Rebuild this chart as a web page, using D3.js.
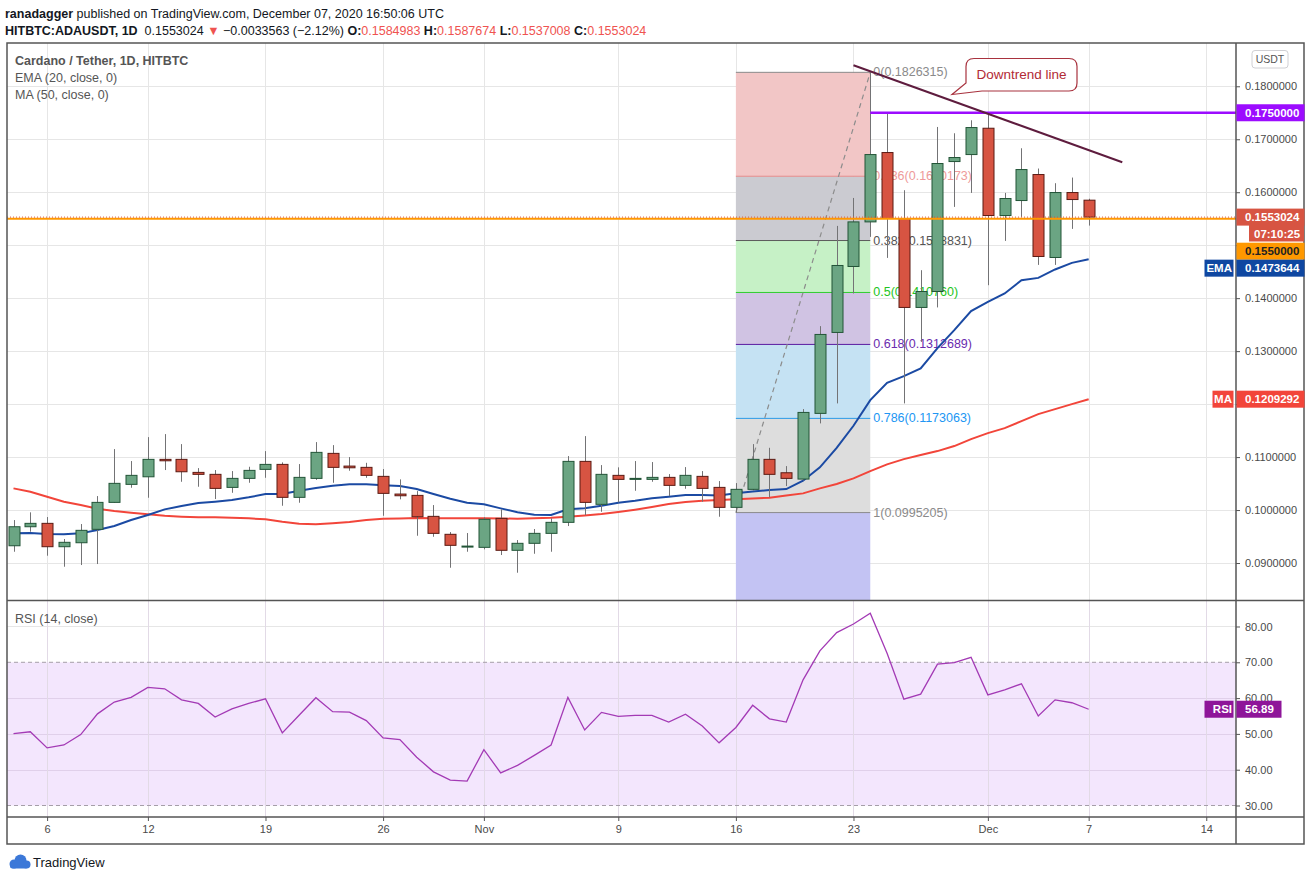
<!DOCTYPE html>
<html>
<head>
<meta charset="utf-8">
<script src="https://cdnjs.cloudflare.com/ajax/libs/d3/7.8.5/d3.min.js"></script>
<style>
  body { margin: 0; background: #fff; }
  svg { display: block; }
</style>
</head>
<body>
<svg></svg>
<script>
const WIDTH = 1311;
const HEIGHT = 881;

// ---- daily candles, Oct 4 .. Dec 7 2020 ----
const OPEN = [0.09326,0.09685,0.09749,0.09308,0.09383,0.09636,0.10145,0.10485,0.10628,0.10957,
  0.10957,0.10711,0.10674,0.10428,0.10598,0.10768,0.10862,0.10240,0.10598,0.11070,
  0.10830,0.10806,0.10636,0.10302,0.10277,0.09881,0.09542,0.09302,0.09296,0.09843,
  0.09240,0.09372,0.09560,0.09768,0.10919,0.10108,0.10655,0.10579,0.10579,0.10617,
  0.10466,0.10636,0.10428,0.10051,0.10391,0.10957,0.10704,0.10585,0.11825,0.13353,
  0.14598,0.15440,0.16749,0.15504,0.13825,0.14126,0.16579,0.16711,0.17208,0.15560,
  0.15843,0.16334,0.14768,0.15994,0.1584983];
const HIGH = [0.09811,0.09957,0.09868,0.09453,0.09736,0.10264,0.11151,0.10925,0.11377,0.11434,
  0.11245,0.10792,0.10755,0.10736,0.10817,0.11113,0.10900,0.10868,0.11283,0.11226,
  0.11000,0.10892,0.10774,0.10579,0.10358,0.10094,0.09585,0.09566,0.09862,0.10013,
  0.09434,0.09642,0.09843,0.11019,0.11396,0.10849,0.10806,0.10925,0.10906,0.10679,
  0.10811,0.10736,0.10547,0.10509,0.11245,0.11175,0.10830,0.11906,0.13472,0.15364,
  0.15892,0.1826315,0.17504,0.16038,0.14528,0.17232,0.17113,0.17358,0.17504,0.15987,
  0.16830,0.16447,0.16170,0.16277,0.1587674];
const LOW = [0.09213,0.09591,0.09138,0.08930,0.08962,0.08981,0.10140,0.10421,0.10232,0.10755,
  0.10534,0.10440,0.10208,0.10326,0.10515,0.10609,0.10081,0.10138,0.10570,0.10515,
  0.10742,0.10609,0.09892,0.10202,0.09515,0.09496,0.08911,0.09213,0.09258,0.09151,
  0.08817,0.09175,0.09213,0.09698,0.09906,0.09968,0.10145,0.10364,0.10534,0.10264,
  0.10402,0.10157,0.09874,0.0995205,0.10370,0.10240,0.10453,0.10560,0.11636,0.12013,
  0.14089,0.15157,0.14760,0.12013,0.13175,0.13825,0.15723,0.15987,0.14245,0.15081,
  0.15534,0.14628,0.14628,0.15308,0.1537008];
const CLOSE = [0.09685,0.09749,0.09308,0.09391,0.09617,0.10145,0.10504,0.10655,0.10957,0.10930,
  0.10723,0.10674,0.10409,0.10598,0.10749,0.10862,0.10240,0.10617,0.11089,0.10806,
  0.10798,0.10655,0.10315,0.10270,0.09874,0.09560,0.09334,0.09320,0.09825,0.09240,
  0.09372,0.09560,0.09768,0.10919,0.10145,0.10674,0.10579,0.10598,0.10617,0.10466,
  0.10655,0.10409,0.10051,0.10391,0.10957,0.10674,0.10598,0.11843,0.13315,0.14617,
  0.15440,0.16711,0.15504,0.13825,0.14126,0.16542,0.16655,0.17221,0.15560,0.15881,
  0.16428,0.14787,0.15994,0.15862,0.1553024];

const EMA20 = [0.09560,0.09566,0.09547,0.09541,0.09560,0.09623,0.09698,0.09811,0.09906,0.10013,
  0.10075,0.10132,0.10157,0.10189,0.10240,0.10302,0.10302,0.10364,0.10415,0.10458,
  0.10485,0.10485,0.10466,0.10453,0.10396,0.10302,0.10213,0.10138,0.10108,0.10032,
  0.09957,0.09911,0.09906,0.10013,0.10032,0.10081,0.10138,0.10175,0.10221,0.10251,
  0.10283,0.10283,0.10277,0.10315,0.10349,0.10377,0.10396,0.10553,0.10806,0.11175,
  0.11591,0.12075,0.12402,0.12528,0.12674,0.13057,0.13396,0.13755,0.13930,0.14089,
  0.14340,0.14383,0.14542,0.14666,0.1473644];
const MA50 = [0.10409,0.10345,0.10251,0.10157,0.10094,0.10025,0.09981,0.09949,0.09919,0.09892,
  0.09874,0.09862,0.09862,0.09855,0.09843,0.09825,0.09779,0.09742,0.09730,0.09749,
  0.09774,0.09811,0.09836,0.09840,0.09849,0.09845,0.09843,0.09843,0.09843,0.09840,
  0.09836,0.09845,0.09855,0.09874,0.09896,0.09925,0.09962,0.10006,0.10057,0.10113,
  0.10151,0.10175,0.10189,0.10202,0.10217,0.10232,0.10274,0.10315,0.10409,0.10491,
  0.10598,0.10736,0.10862,0.10962,0.11038,0.11113,0.11208,0.11340,0.11453,0.11547,
  0.11679,0.11811,0.11906,0.12000,0.1209292];
const RSI14 = [50.1,50.6,46.1,46.9,49.8,55.6,58.9,60.2,63.0,62.6,
  59.5,58.5,54.7,57.0,58.5,59.8,50.3,55.2,60.1,56.2,
  56.1,53.7,48.9,48.4,43.5,39.4,37.1,36.8,45.6,39.1,
  41.2,44.0,46.9,60.2,51.1,56.0,54.9,55.2,55.2,53.3,
  55.5,52.2,47.5,51.8,58.0,54.2,53.3,65.1,73.2,78.3,
  80.7,83.7,72.5,59.7,61.1,69.5,69.9,71.4,60.9,62.3,
  64.0,55.0,59.5,58.7,56.89];

const DATES = d3.utcDay.range(new Date(Date.UTC(2020, 9, 4)), new Date(Date.UTC(2020, 11, 8)));

const PRICE_TICKS = [0.09, 0.10, 0.11, 0.12, 0.13, 0.14, 0.15, 0.16, 0.17, 0.18];
const HIDDEN_TICKS = [0.12, 0.15];   // covered by the price tags in the picture
const RSI_TICKS = [30, 40, 50, 60, 70, 80];
const DATE_TICKS = [[9,6],[9,12],[9,19],[9,26],[10,1],[10,9],[10,16],[10,23],[11,1],[11,7],[11,14]]
  .map(d => new Date(Date.UTC(2020, d[0], d[1])));
const DATE_LABELS = ["6", "12", "19", "26", "Nov", "9", "16", "23", "Dec", "7", "14"];

// fib retracement drawn from Nov 16 low to Nov 24 high
const FIB_DATES = [new Date(Date.UTC(2020, 10, 16)), new Date(Date.UTC(2020, 10, 24))];
const FIB_LEVELS = ["0", "0.236", "0.382", "0.5", "0.618", "0.786", "1"];
const FIB_VALUES = [0.1826315, 0.1630173, 0.1508831, 0.1410760, 0.1312689, 0.1173063, 0.0995205];
const FIB_LINE = ["#8a8a8a", "#e58a8a", "#5c5c5c", "#2ecc2e", "#5a1aa0", "#2a9ae6", "#8a8a8a"];
const FIB_FILL = ["#f2c6c6", "#cbcbd1", "#c6f1c6", "#d0c3e3", "#c5e2f3", "#dddddd", "#c3c3f3"];
const FIB_TEXT = ["#8a8a8a", "#ee9a9a", "#555555", "#22c522", "#6a2cae", "#2196f3", "#8a8a8a"];

const RESISTANCE = 0.175;
const SUPPORT = 0.155;
const LAST_PRICE = 0.1553024;
const TREND_DATES = [new Date(Date.UTC(2020, 10, 23)), new Date(Date.UTC(2020, 11, 9))];
const TREND_PRICES = [0.18396, 0.16566];

// ---- layout ----
const LEFT = 7, RIGHT = 1236, OUTER_RIGHT = 1304;
const MAIN_TOP = 43, MAIN_BOTTOM = 600;
const RSI_TOP = 601, RSI_BOTTOM = 817, AXIS_BOTTOM = 844;
const FONT = "'Liberation Sans', Arial, sans-serif";

const DAY = 864e5;
const T0 = DATES[0].getTime();
const x = d3.scaleUtc()
  .domain([new Date(T0 - 0.387 * DAY), new Date(T0 + 72.77 * DAY)])
  .range([LEFT, RIGHT]);
const y = d3.scaleLinear().domain([0.08302, 0.18817]).range([MAIN_BOTTOM, MAIN_TOP]);
const yR = d3.scaleLinear().domain([26.79, 87.12]).range([RSI_BOTTOM, RSI_TOP]);

const svg = d3.select("svg")
  .attr("width", WIDTH)
  .attr("height", HEIGHT)
  .style("font-family", FONT);

svg.append("rect").attr("width", WIDTH).attr("height", HEIGHT).attr("fill", "#fff");

const defs = svg.append("defs");
defs.append("clipPath").attr("id", "clipMain").append("rect")
  .attr("x", LEFT).attr("y", MAIN_TOP).attr("width", RIGHT - LEFT).attr("height", MAIN_BOTTOM - MAIN_TOP);
defs.append("clipPath").attr("id", "clipRsi").append("rect")
  .attr("x", LEFT).attr("y", RSI_TOP).attr("width", RIGHT - LEFT).attr("height", RSI_BOTTOM - RSI_TOP);

// ---- grid ----
const grid = svg.append("g").attr("stroke", "#e6e6e6").attr("stroke-width", 1);
grid.selectAll("line.h").data(PRICE_TICKS).join("line")
  .attr("x1", LEFT).attr("x2", RIGHT)
  .attr("y1", d => Math.round(y(d)) + 0.5).attr("y2", d => Math.round(y(d)) + 0.5);
grid.selectAll("line.v").data(DATE_TICKS).join("line")
  .attr("x1", d => Math.round(x(d)) + 0.5).attr("x2", d => Math.round(x(d)) + 0.5)
  .attr("y1", MAIN_TOP).attr("y2", MAIN_BOTTOM);

// ---- main pane ----
const main = svg.append("g").attr("clip-path", "url(#clipMain)");

const fx0 = x(FIB_DATES[0]), fx1 = x(FIB_DATES[1]);
const zoneEdges = FIB_VALUES.concat([y.domain()[0]]);
main.selectAll("rect.zone").data(FIB_FILL).join("rect")
  .attr("x", fx0).attr("width", fx1 - fx0)
  .attr("y", (d, i) => y(zoneEdges[i]))
  .attr("height", (d, i) => y(zoneEdges[i + 1]) - y(zoneEdges[i]))
  .attr("fill", d => d);
main.selectAll("line.fib").data(FIB_VALUES).join("line")
  .attr("x1", fx0).attr("x2", fx1)
  .attr("y1", d => y(d)).attr("y2", d => y(d))
  .attr("stroke", (d, i) => FIB_LINE[i]).attr("stroke-width", 1);
main.selectAll("text.fib").data(FIB_VALUES).join("text")
  .attr("x", fx1 + 3).attr("y", d => y(d) + 4)
  .attr("fill", (d, i) => FIB_TEXT[i])
  .attr("font-size", 12.5)
  .text((d, i) => `${FIB_LEVELS[i]}(${d.toFixed(7)})`);
main.append("line")
  .attr("x1", fx0).attr("y1", y(FIB_VALUES[6]))
  .attr("x2", fx1).attr("y2", y(FIB_VALUES[0]))
  .attr("stroke", "#8c8c8c").attr("stroke-width", 1.2).attr("stroke-dasharray", "5,4");

const lineGen = vals => d3.line().x((d, i) => x(DATES[i])).y(d => y(d))(vals);
main.append("path").attr("d", lineGen(MA50))
  .attr("fill", "none").attr("stroke", "#f2453a").attr("stroke-width", 2);
main.append("path").attr("d", lineGen(EMA20))
  .attr("fill", "none").attr("stroke", "#1b4aa3").attr("stroke-width", 2);

// candles
const BODY = 11;
const candles = main.append("g").selectAll("g").data(DATES).join("g");
candles.append("line")
  .attr("x1", d => Math.round(x(d)) + 0.5).attr("x2", d => Math.round(x(d)) + 0.5)
  .attr("y1", (d, i) => y(HIGH[i])).attr("y2", (d, i) => y(LOW[i]))
  .attr("stroke", "#737375").attr("stroke-width", 1);
candles.append("rect")
  .attr("x", d => Math.round(x(d)) - BODY / 2 + 0.5)
  .attr("width", BODY)
  .attr("y", (d, i) => y(Math.max(OPEN[i], CLOSE[i])))
  .attr("height", (d, i) => Math.max(1, Math.abs(y(OPEN[i]) - y(CLOSE[i]))))
  .attr("fill", (d, i) => CLOSE[i] >= OPEN[i] ? "#6ba583" : "#d75442")
  .attr("stroke", (d, i) => CLOSE[i] >= OPEN[i] ? "#225437" : "#5b1a13")
  .attr("stroke-width", 1);

// horizontal levels and drawings
main.append("line")
  .attr("x1", LEFT).attr("x2", RIGHT)
  .attr("y1", y(SUPPORT)).attr("y2", y(SUPPORT))
  .attr("stroke", "#ff9800").attr("stroke-width", 2);
main.append("line")
  .attr("x1", LEFT).attr("x2", RIGHT)
  .attr("y1", y(LAST_PRICE)).attr("y2", y(LAST_PRICE))
  .attr("stroke", "#d75442").attr("stroke-width", 1).attr("stroke-dasharray", "1,2");
main.append("line")
  .attr("x1", x(FIB_DATES[1])).attr("x2", RIGHT)
  .attr("y1", y(RESISTANCE)).attr("y2", y(RESISTANCE))
  .attr("stroke", "#9c0cff").attr("stroke-width", 2.5);
main.append("line")
  .attr("x1", x(TREND_DATES[0])).attr("y1", y(TREND_PRICES[0]))
  .attr("x2", x(TREND_DATES[1])).attr("y2", y(TREND_PRICES[1]))
  .attr("stroke", "#5e1c3e").attr("stroke-width", 2);

// callout
main.append("path")
  .attr("d", "M974,58.5 H1069 Q1077,58.5 1077,66.5 V83 Q1077,91 1069,91 H982 L952,94.5 L966,83 V66.5 Q966,58.5 974,58.5 Z")
  .attr("fill", "#fff").attr("stroke", "#a8323e").attr("stroke-width", 1.2);
main.append("text")
  .attr("x", 1021.5).attr("y", 79)
  .attr("text-anchor", "middle").attr("font-size", 13.5)
  .attr("fill", "#b22a35")
  .text("Downtrend line");

// legend
const legend = svg.append("g").attr("font-size", 12.5).attr("fill", "#555");
legend.append("text").attr("x", 15).attr("y", 65).attr("font-weight", "bold").text("Cardano / Tether, 1D, HITBTC");
legend.append("text").attr("x", 15).attr("y", 82).text("EMA (20, close, 0)");
legend.append("text").attr("x", 15).attr("y", 98.5).text("MA (50, close, 0)");

// ---- RSI pane ----
const rsi = svg.append("g").attr("clip-path", "url(#clipRsi)");
rsi.append("rect")
  .attr("x", LEFT).attr("width", RIGHT - LEFT)
  .attr("y", yR(70)).attr("height", yR(30) - yR(70))
  .attr("fill", "#f3e6fd");
rsi.selectAll("line.h").data([40, 50, 60, 80]).join("line")
  .attr("x1", LEFT).attr("x2", RIGHT)
  .attr("y1", d => Math.round(yR(d)) + 0.5).attr("y2", d => Math.round(yR(d)) + 0.5)
  .attr("stroke", d => d === 80 ? "#e6e6e6" : "#e0d0ea").attr("stroke-width", 1);
rsi.selectAll("line.v").data(DATE_TICKS).join("line")
  .attr("x1", d => Math.round(x(d)) + 0.5).attr("x2", d => Math.round(x(d)) + 0.5)
  .attr("y1", RSI_TOP).attr("y2", RSI_BOTTOM)
  .attr("stroke", "#e2dae6").attr("stroke-width", 1);
rsi.selectAll("line.band").data([70, 30]).join("line")
  .attr("x1", LEFT).attr("x2", RIGHT)
  .attr("y1", d => yR(d)).attr("y2", d => yR(d))
  .attr("stroke", "#a59ea8").attr("stroke-width", 1).attr("stroke-dasharray", "4,3");
rsi.append("path")
  .attr("d", d3.line().x((d, i) => x(DATES[i])).y(d => yR(d))(RSI14))
  .attr("fill", "none").attr("stroke", "#a33ab5").attr("stroke-width", 1.3);
svg.append("text").attr("x", 15).attr("y", 623).attr("font-size", 12.5).attr("fill", "#555")
  .text("RSI (14, close)");

// ---- frame ----
const frame = svg.append("g").attr("stroke", "#555").attr("stroke-width", 1.5).attr("fill", "none");
frame.append("rect").attr("x", LEFT).attr("y", MAIN_TOP).attr("width", OUTER_RIGHT - LEFT).attr("height", AXIS_BOTTOM - MAIN_TOP);
frame.append("line").attr("x1", RIGHT).attr("x2", RIGHT).attr("y1", MAIN_TOP).attr("y2", AXIS_BOTTOM);
frame.append("line").attr("x1", LEFT).attr("x2", OUTER_RIGHT).attr("y1", RSI_TOP - 0.5).attr("y2", RSI_TOP - 0.5);
frame.append("line").attr("x1", LEFT).attr("x2", OUTER_RIGHT).attr("y1", RSI_BOTTOM).attr("y2", RSI_BOTTOM);

// ---- axes ----
function styleAxis(g) {
  g.select(".domain").remove();
  g.selectAll(".tick line").attr("stroke", "#555");
  g.selectAll(".tick text").attr("fill", "#4a4a4a").attr("font-size", 11).attr("font-family", FONT);
}
svg.append("g").attr("transform", `translate(${RIGHT},0)`)
  .call(d3.axisRight(y).tickValues(PRICE_TICKS)
    .tickFormat(d => HIDDEN_TICKS.includes(d) ? "" : d3.format(".7f")(d))
    .tickSize(4).tickPadding(5))
  .call(styleAxis);
svg.append("g").attr("transform", `translate(${RIGHT},0)`)
  .call(d3.axisRight(yR).tickValues(RSI_TICKS).tickFormat(d3.format(".2f")).tickSize(4).tickPadding(5))
  .call(styleAxis);
svg.append("g").attr("transform", `translate(0,${RSI_BOTTOM})`)
  .call(d3.axisBottom(x).tickValues(DATE_TICKS).tickFormat((d, i) => DATE_LABELS[i]).tickSize(4).tickPadding(4))
  .call(styleAxis);

// price tags on the right axis (cy = centre of the tag)
function tag(cy, text, fill, color, name, w) {
  const g = svg.append("g");
  g.append("rect").attr("x", RIGHT + 0.5).attr("y", cy - 8.5).attr("width", w || 68).attr("height", 17).attr("fill", fill);
  g.append("text").attr("x", RIGHT + 9).attr("y", cy + 4).attr("font-size", 11.5).attr("font-weight", "bold")
    .attr("fill", color).text(text);
  if (name) {
    g.append("rect").attr("x", RIGHT - 1.5 - (name.length * 8 + 6)).attr("y", cy - 8.5)
      .attr("width", name.length * 8 + 5).attr("height", 17).attr("fill", fill);
    g.append("text").attr("x", RIGHT - 4).attr("y", cy + 4).attr("text-anchor", "end")
      .attr("font-size", 11.5).attr("font-weight", "bold").attr("fill", color).text(name);
  }
}
tag(y(RESISTANCE), "0.1750000", "#9c0cff", "#fff");
tag(y(LAST_PRICE), "0.1553024", "#d75442", "#fff");
svg.append("rect").attr("x", 1249).attr("y", 225).attr("width", 55).attr("height", 16.5).attr("fill", "#d75442");
svg.append("text").attr("x", 1254).attr("y", 237.5).attr("font-size", 11.5).attr("font-weight", "bold")
  .attr("fill", "#fff").text("07:10:25");
// these two tags are pushed down to make room for the countdown, as in the picture
tag(y(SUPPORT) + 32.5, "0.1550000", "#ff9800", "#222");
tag(y(EMA20[EMA20.length - 1]) + 9, "0.1473644", "#0f47a1", "#fff", "EMA");
tag(y(MA50[MA50.length - 1]), "0.1209292", "#f2453a", "#fff", "MA");
tag(yR(RSI14[RSI14.length - 1]), "56.89", "#8e1599", "#fff", "RSI", 45);

// currency button
svg.append("rect").attr("x", 1252).attr("y", 50.5).attr("width", 36).attr("height", 17.5).attr("rx", 3)
  .attr("fill", "#fff").attr("stroke", "#d0d0d4");
svg.append("text").attr("x", 1270).attr("y", 63).attr("text-anchor", "middle").attr("font-size", 10.5)
  .attr("fill", "#555").text("USDT");

// ---- header ----
const h1 = svg.append("text").attr("x", 5).attr("y", 18).attr("font-size", 12.5).attr("fill", "#131722");
h1.append("tspan").attr("font-weight", "bold").text("ranadagger");
h1.append("tspan").text(" published on TradingView.com, December 07, 2020 16:50:06 UTC");

const h2 = svg.append("text").attr("x", 5).attr("y", 34.5).attr("font-size", 12.5).attr("fill", "#131722");
h2.append("tspan").attr("font-weight", "bold").text("HITBTC:ADAUSDT, 1D");
h2.append("tspan").text("\u00a0 0.1553024 ");
h2.append("tspan").attr("fill", "#ef5350").text("\u25bc");
h2.append("tspan").text(" \u22120.0033563 (\u22122.12%) ");
[["O:", OPEN], ["H:", HIGH], ["L:", LOW], ["C:", CLOSE]].forEach(([k, arr], i) => {
  h2.append("tspan").attr("font-weight", "bold").text((i ? " " : "") + k);
  h2.append("tspan").attr("fill", "#ef5350").text(arr[arr.length - 1].toFixed(7));
});

// ---- footer ----
const logo = svg.append("g").attr("fill", "#3b78d8");
logo.append("circle").attr("cx", 14).attr("cy", 864).attr("r", 4.5);
logo.append("circle").attr("cx", 20.5).attr("cy", 860.5).attr("r", 6);
logo.append("circle").attr("cx", 26.5).attr("cy", 864.5).attr("r", 4);
logo.append("rect").attr("x", 10).attr("y", 863).attr("width", 18).attr("height", 5.5).attr("rx", 2.5);
svg.append("text").attr("x", 33).attr("y", 867).attr("font-size", 13).attr("fill", "#131722").text("TradingView");
</script>
</body>
</html>
